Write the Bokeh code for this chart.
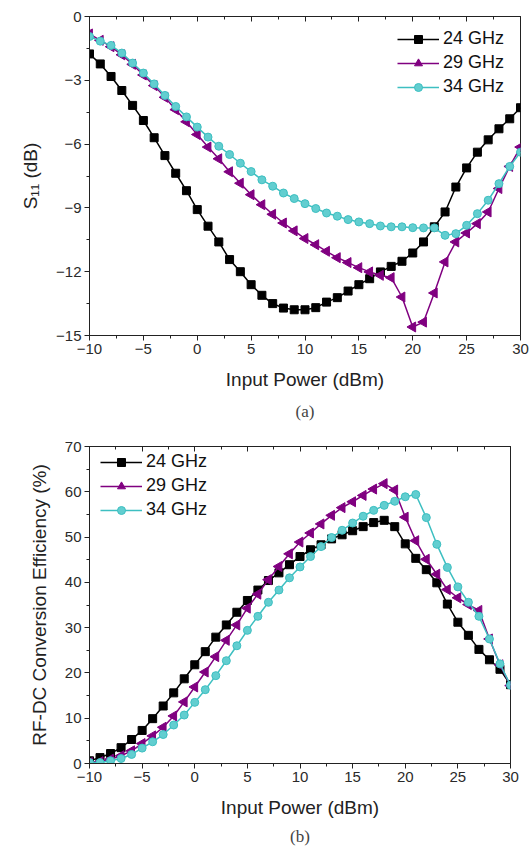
import numpy as np
from bokeh.plotting import figure
from bokeh.layouts import column
from bokeh.models import LinearAxis, SingleIntervalTicker, Range1d, Legend, LegendItem, Title
from bokeh.embed import file_html
from bokeh.resources import INLINE

# ---------------- data ----------------
power = list(range(-10, 31))
series_names = ["24 GHz", "29 GHz", "34 GHz"]

s11_24 = [-1.76, -2.23, -2.82, -3.48, -4.18, -4.89, -5.70, -6.54, -7.37, -8.19,
          -9.08, -9.86, -10.60, -11.43, -12.00, -12.61, -13.11, -13.50, -13.71, -13.79,
          -13.79, -13.69, -13.43, -13.22, -12.91, -12.61, -12.33, -12.01, -11.75, -11.51,
          -11.12, -10.60, -9.89, -9.19, -8.02, -7.12, -6.38, -5.80, -5.28, -4.81, -4.29]
s11_29 = [-0.82, -1.12, -1.42, -1.80, -2.25, -2.75, -3.25, -3.80, -4.38, -4.95,
          -5.55, -6.14, -6.69, -7.30, -7.84, -8.38, -8.85, -9.30, -9.71, -10.08,
          -10.44, -10.73, -11.04, -11.34, -11.57, -11.81, -12.01, -12.17, -12.28, -13.19,
          -14.60, -14.37, -13.00, -11.54, -10.60, -10.18, -9.74, -9.19, -8.09, -7.05, -6.14]
s11_34 = [-0.94, -1.16, -1.36, -1.72, -2.19, -2.66, -3.17, -3.71, -4.23, -4.72,
          -5.20, -5.67, -6.10, -6.49, -6.90, -7.29, -7.68, -7.98, -8.30, -8.56,
          -8.80, -9.03, -9.24, -9.39, -9.55, -9.66, -9.74, -9.85, -9.89, -9.89,
          -9.93, -9.94, -9.94, -10.29, -10.21, -9.82, -9.27, -8.64, -7.86, -7.05, -6.38]

eff_24 = [0.6, 1.3, 2.2, 3.5, 5.3, 7.3, 9.9, 12.7, 15.6, 18.7,
          21.8, 24.7, 27.9, 30.6, 33.4, 36.0, 38.3, 40.4, 42.1, 43.9,
          45.7, 47.2, 48.3, 49.6, 50.5, 51.4, 52.3, 53.2, 53.7, 52.3,
          48.5, 45.3, 42.8, 39.9, 35.2, 31.2, 28.3, 25.2, 22.9, 20.8, 17.4]
eff_29 = [0.2, 0.4, 0.95, 1.7, 2.8, 4.4, 6.1, 8.0, 10.5, 13.6,
          16.9, 20.2, 23.6, 27.2, 30.6, 34.3, 37.4, 40.6, 43.5, 46.3,
          48.9, 50.9, 52.9, 54.8, 56.5, 57.8, 59.2, 60.6, 61.8, 60.4,
          54.4, 49.2, 45.1, 41.8, 38.4, 36.6, 35.1, 33.8, 27.5, 21.8, 17.2]
eff_34 = [0.2, 0.2, 0.6, 1.1, 2.0, 3.4, 4.8, 6.4, 8.5, 10.7,
          13.5, 16.3, 19.4, 22.7, 26.0, 29.4, 32.5, 35.6, 38.3, 41.0,
          43.4, 45.7, 47.9, 49.9, 51.5, 53.1, 54.6, 55.9, 57.0, 57.9,
          58.9, 59.4, 54.3, 48.4, 43.3, 39.0, 35.6, 32.5, 27.5, 22.0, 17.3]

x_ticks_interval = 5
s11_tick_interval = 3
eff_tick_interval = 10

# ---------------- styles ----------------
SANS = "Liberation Sans"
SERIF = "Liberation Serif"
BLACK = "#000000"
PURPLE = "#800080"
CYAN = "#3DBFC1"
CYAN_FILL = "#62CED0"
AX = "#222222"


def style_axes(p, x_int, y_int, xlabel, ylabel):
    xa = p.below[0]
    ya = p.left[0]
    xa.ticker = SingleIntervalTicker(interval=x_int, num_minor_ticks=2)
    ya.ticker = SingleIntervalTicker(interval=y_int, num_minor_ticks=2)
    xa.axis_label = xlabel
    ya.axis_label = ylabel
    for ax in (xa, ya):
        ax.major_tick_in = 0
        ax.major_tick_out = 5
        ax.minor_tick_in = 0
        ax.minor_tick_out = 3
        ax.axis_line_color = AX
        ax.major_tick_line_color = AX
        ax.minor_tick_line_color = AX
        ax.major_label_text_font = SANS
        ax.major_label_text_font_size = "15px"
        ax.major_label_text_color = "#2a2a2a"
        ax.axis_label_text_font = SANS
        ax.axis_label_text_font_size = "19px"
        ax.axis_label_text_font_style = "normal"
        ax.axis_label_text_color = AX
        ax.major_label_standoff = 3
    ya.axis_label_standoff = 12
    xa.axis_label_standoff = 12
    top = LinearAxis(ticker=SingleIntervalTicker(interval=x_int, num_minor_ticks=2),
                     major_label_text_font_size="0px", major_label_text_color=None,
                     major_tick_in=5, major_tick_out=0, minor_tick_in=3, minor_tick_out=0,
                     axis_line_color=AX, major_tick_line_color=AX, minor_tick_line_color=AX,
                     major_label_standoff=0)
    p.add_layout(top, "above")
    p.xgrid.visible = False
    p.ygrid.visible = False
    p.outline_line_color = AX
    p.outline_line_width = 1


def add_series(p, ys):
    l1 = p.line(power, ys[0], line_color=BLACK, line_width=1.5)
    m1 = p.scatter(power, ys[0], marker="square", size=8, fill_color=BLACK, line_color=BLACK)
    l2 = p.line(power, ys[1], line_color=PURPLE, line_width=1.5)
    m2 = p.scatter(power, ys[1], marker="triangle", size=10, angle=np.pi / 2,
                   angle_units="rad", fill_color=PURPLE, line_color=PURPLE)
    l3 = p.line(power, ys[2], line_color=CYAN, line_width=1.5)
    m3 = p.scatter(power, ys[2], marker="circle", size=8, fill_color=CYAN_FILL, line_color=CYAN)
    return [[l1, m1], [l2, m2], [l3, m3]]


def make_legend(p, renderers, loc):
    items = [LegendItem(label=n, renderers=r) for n, r in zip(series_names, renderers)]
    leg = Legend(items=items, location=loc, border_line_color=None, background_fill_alpha=0,
                 padding=0, margin=0, spacing=3, glyph_width=42, glyph_height=20,
                 label_height=20, label_standoff=4, label_text_font=SANS,
                 label_text_font_size="18px", label_text_color="#111111")
    p.add_layout(leg, "center")


# ---------------- top plot ----------------
p1 = figure(frame_width=431, frame_height=319, min_border_left=84, min_border_right=14,
            min_border_top=16, min_border_bottom=95, output_backend="svg",
            toolbar_location=None, x_range=Range1d(-10, 30), y_range=Range1d(-15, 0))
style_axes(p1, x_ticks_interval, s11_tick_interval, "Input Power (dBm)", "S\u2081\u2081 (dB)")
rs1 = add_series(p1, [s11_24, s11_29, s11_34])
make_legend(p1, rs1, (308, 238))
t1 = Title(text="(a)", align="center", text_font=SERIF, text_font_size="17px",
           text_font_style="normal", standoff=14)
p1.add_layout(t1, "below")

# ---------------- bottom plot ----------------
p2 = figure(frame_width=421, frame_height=317, min_border_left=89, min_border_right=19,
            min_border_top=16, min_border_bottom=88, output_backend="svg",
            toolbar_location=None, x_range=Range1d(-10, 30), y_range=Range1d(0, 70))
style_axes(p2, x_ticks_interval, eff_tick_interval, "Input Power (dBm)",
           "RF-DC Conversion Efficiency (%)")
rs2 = add_series(p2, [eff_24, eff_29, eff_34])
make_legend(p2, rs2, (11, 243))
t2 = Title(text="(b)", align="center", text_font=SERIF, text_font_size="17px",
           text_font_style="normal", standoff=9)
p2.add_layout(t2, "below")

layout = column(p1, p2, spacing=0)
open("out.html", "w").write(file_html(layout, INLINE))
